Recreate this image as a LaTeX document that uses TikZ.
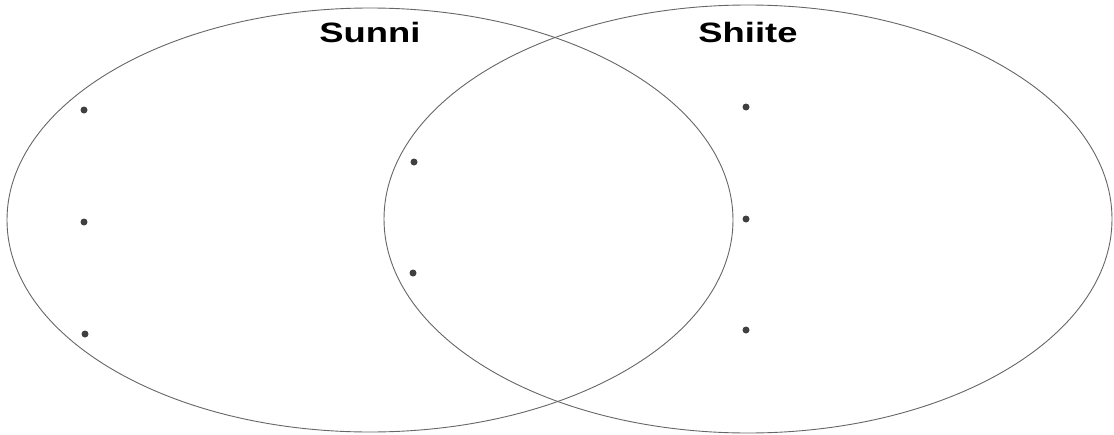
\documentclass[tikz,border=0pt]{standalone}
\usepackage{fontspec}
\setmainfont{Liberation Sans}
\begin{document}
\begin{tikzpicture}[x=1pt,y=-1pt,
  venn/.style={draw=black!60,line width=0.9pt},
  dot/.style={circle,fill=black!75,inner sep=0pt,minimum size=7pt},
  title/.style={font=\bfseries\fontsize{28}{30}\selectfont,inner sep=0pt}]
\useasboundingbox (0,0) rectangle (1114,434);
\draw[venn] (370,220) ellipse [x radius=363,y radius=212];
\draw[venn] (748,219) ellipse [x radius=364,y radius=214];
\node[title] (sunni) at (370,32) {\scalebox{1.3}[1]{Sunni}};
\node[title] (shiite) at (748,32) {\scalebox{1.3}[1]{Shiite}};
\node[dot] (l1) at (84,110) {};
\node[dot] (l2) at (84,222) {};
\node[dot] (l3) at (85,334) {};
\node[dot] (m1) at (414,162) {};
\node[dot] (m2) at (413,273) {};
\node[dot] (r1) at (746,107) {};
\node[dot] (r2) at (746,219) {};
\node[dot] (r3) at (746,330) {};
\end{tikzpicture}
\end{document}
